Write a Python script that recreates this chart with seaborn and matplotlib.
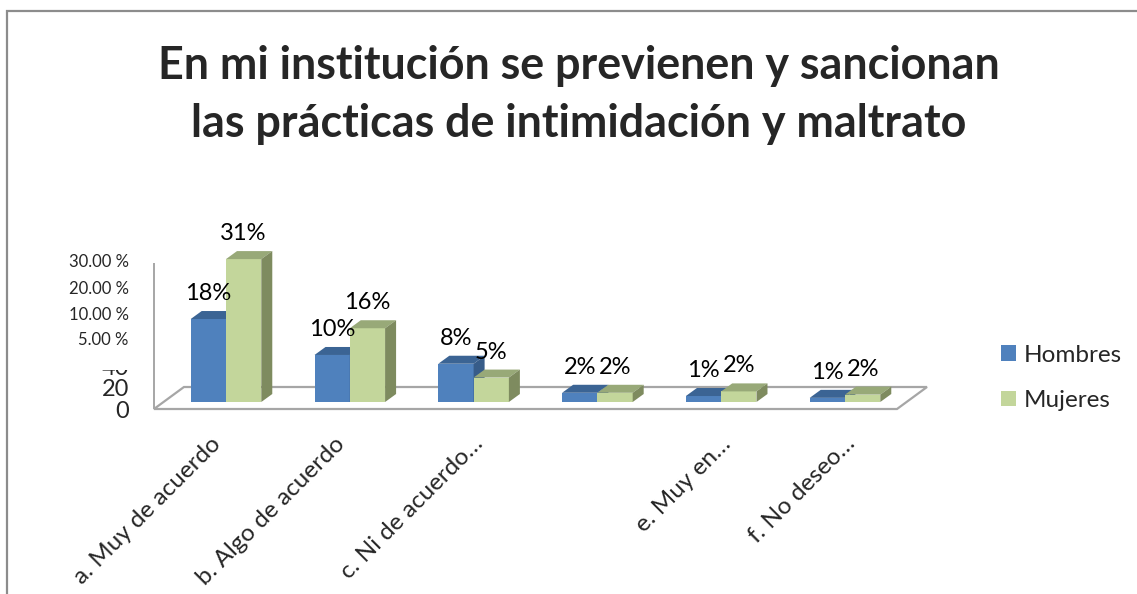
import matplotlib
matplotlib.use("Agg")
import matplotlib.pyplot as plt
import seaborn as sns
import pandas as pd
import numpy as np
from matplotlib.patches import Polygon, Rectangle, Patch
from matplotlib.transforms import Bbox, ScaledTranslation

# ---------------- data ----------------
categories = ["a. Muy de acuerdo", "b. Algo de acuerdo", "c. Ni de acuerdo ni en desacuerdo",
              "d. Algo en desacuerdo", "e. Muy en desacuerdo", "f. No deseo responder"]
tick_labels = ["a. Muy de acuerdo", "b. Algo de acuerdo", "c. Ni de acuerdo…", "",
               "e. Muy en…", "f. No deseo…"]
series = ["Hombres", "Mujeres"]
hombres = [18.0, 10.2, 8.3, 2.0, 1.3, 0.9]
mujeres = [31.0, 16.0, 5.3, 2.0, 2.3, 1.6]
ytick_labels = ["30.00 %", "20.00 %", "10.00 %", "5.00 %", "40", "20", "0"]
ytick_pos = [30.6, 24.9, 19.3, 13.7, 7.8, 3.25, -1.7]
title = "En mi institución se previenen y sancionan\nlas prácticas de intimidación y maltrato"

# ---------------- style ----------------
sns.set_style("white")
plt.rcParams['font.family'] = ['Lato', 'DejaVu Sans']

BLUE, BLUE_TOP, BLUE_SIDE = "#4F81BD", "#3B6494", "#375C89"
GREEN, GREEN_TOP, GREEN_SIDE = "#C3D69B", "#98A978", "#7E8B5F"
FLOOR = "#A6A6A6"

W, H = 1137, 594
fig = plt.figure(figsize=(W / 100, H / 100), dpi=100)

# axes placement (pixel geometry of the reference)
px_per_cat = 123.8
px_per_pct = 4.61
x0_px, y0_px = 226, 402
xlim = (-0.65, 5.65)
ylim = (-4, 34)
left = x0_px + xlim[0] * px_per_cat
right = x0_px + xlim[1] * px_per_cat
top = y0_px - ylim[1] * px_per_pct
bottom = y0_px - ylim[0] * px_per_pct
ax = fig.add_axes([left / W, 1 - bottom / H, (right - left) / W, (bottom - top) / H])
ax.set_facecolor("none")

df = pd.DataFrame({
    "Categoría": categories * 2,
    "Serie": [series[0]] * len(categories) + [series[1]] * len(categories),
    "Valor": hombres + mujeres,
})
sns.barplot(data=df, x="Categoría", y="Valor", hue="Serie", order=categories,
            hue_order=series, palette=[BLUE, GREEN], saturation=1, width=0.57,
            linewidth=0, legend=False, ax=ax)
ax.set_xlim(*xlim)
ax.set_ylim(*ylim)
for s in ax.spines.values():
    s.set_visible(False)
ax.set_xlabel("")
ax.set_ylabel("")

to_disp = ax.transData
to_data = ax.transData.inverted()
DX, DY = 11, 8  # bar depth in pixels


def dpoly(pts_disp, **kw):
    pts = to_data.transform(np.array(pts_disp))
    p = Polygon(pts, closed=True, clip_on=False, **kw)
    ax.add_patch(p)
    return p


# floor
fl_x0, fl_x1, fl_y = -0.582, 5.42, -1.52
fa = to_disp.transform([(fl_x0, fl_y), (fl_x1, fl_y)])
FDX, FDY = 30, 22
dpoly([fa[0], fa[1], fa[1] + [FDX, FDY], fa[0] + [FDX, FDY]],
      facecolor="white", edgecolor=FLOOR, lw=1.6, zorder=0.5, joinstyle="miter")
ax.plot([fl_x0, fl_x0], [fl_y, 30.15], color=FLOOR, lw=1.4, zorder=0.6,
        solid_capstyle="butt", clip_on=False)

# 3D faces for bars
bars = [b for b in ax.patches
        if isinstance(b, matplotlib.patches.Rectangle) and b.get_height() > 0]
for b in bars:
    fc = matplotlib.colors.to_hex(b.get_facecolor())
    is_blue = fc.lower() == BLUE.lower()
    z = 2 if is_blue else 3
    b.set_zorder(z)
    xa, xb = b.get_x(), b.get_x() + b.get_width()
    h = b.get_height()
    (p0x, p0y), (p1x, p1y) = to_disp.transform([(xa, h), (xb, 0)])
    dpoly([(p0x, p0y), (p1x, p0y), (p1x + DX, p0y + DY), (p0x + DX, p0y + DY)],
          facecolor=BLUE_TOP if is_blue else GREEN_TOP, lw=0, zorder=z + 0.1)
    dpoly([(p1x, p1y), (p1x, p0y), (p1x + DX, p0y + DY), (p1x + DX, p1y + DY)],
          facecolor=BLUE_SIDE if is_blue else GREEN_SIDE, lw=0, zorder=z + 0.1)
    ax.annotate(f"{h:.0f}%", xy=((xa + xb) / 2, h), xytext=(0, 13.7),
                textcoords="offset points", ha="center", va="baseline",
                fontsize=17, color="black", zorder=5)

# ticks
ax.set_xticks(range(len(categories)))
ax.set_xticklabels(tick_labels, rotation=45, ha="right", rotation_mode="anchor",
                   fontsize=17.5)
ax.tick_params(axis="x", length=0, pad=9)
for lab in ax.get_xticklabels():
    nudge = -1 if lab.get_text().endswith("…") else -16
    lab.set_transform(lab.get_transform()
                      + ScaledTranslation(nudge / 100, 0, fig.dpi_scale_trans))
ax.set_yticks(ytick_pos)
ax.set_yticklabels(ytick_labels)
ax.tick_params(axis="y", length=0, pad=12)
for lab in ax.get_yticklabels():
    if "%" in lab.get_text():
        lab.set_fontsize(12)
    else:
        lab.set_fontsize(17)
# the partly hidden "40" label
lab40 = ax.get_yticklabels()[4]
lab40.set_clip_on(True)
lab40.set_clip_box(Bbox([[0, H - 380], [W, H - 370]]))

# legend
handles = [Patch(facecolor=BLUE, edgecolor="none"), Patch(facecolor=GREEN, edgecolor="none")]
fig.legend(handles, series, loc="center left", bbox_to_anchor=(1001 / W, 1 - 378 / H),
           frameon=False, fontsize=17.5, handlelength=0.62, handleheight=0.62,
           handletextpad=0.3, labelspacing=1.0, borderpad=0, borderaxespad=0)

# title
fig.text(579 / W, 1 - 45 / H, title, ha="center", va="top", fontsize=32.3,
         fontweight="bold", linespacing=1.48)

# chart frame
fig.patches.append(Rectangle((7 / W, -0.2), 1.3, 1 - 11 / H + 0.2, transform=fig.transFigure,
                             fill=False, edgecolor="#8C8C8C", lw=1.6, zorder=10))

fig.savefig("out.png", dpi=100)
